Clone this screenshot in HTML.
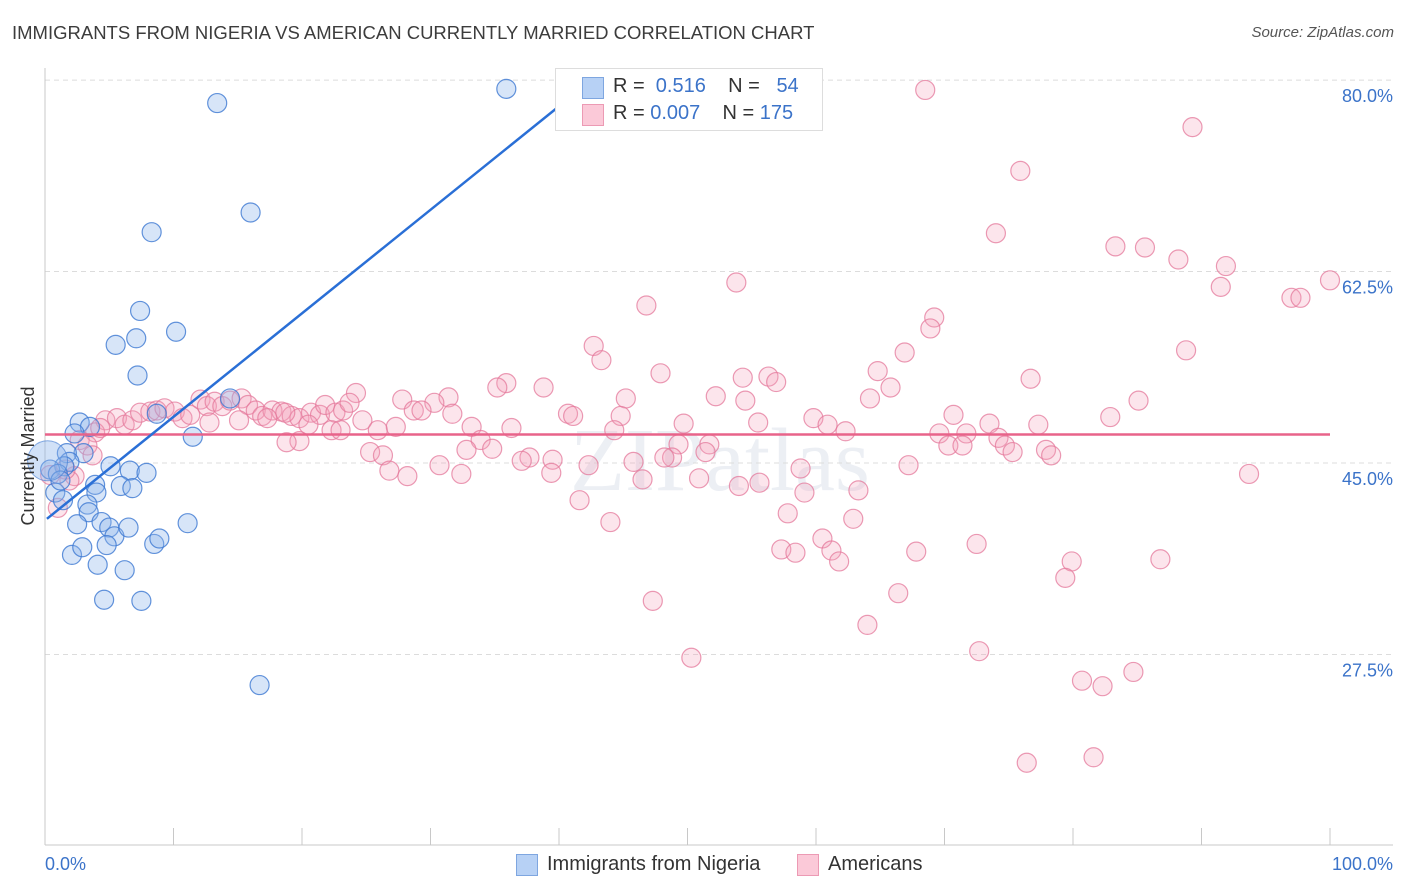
<!DOCTYPE html>
<html><head><meta charset="utf-8">
<style>
body{margin:0;background:#fff;font-family:"Liberation Sans",sans-serif;}
#wrap{position:relative;width:1406px;height:892px;overflow:hidden;}
.t{position:absolute;white-space:nowrap;}
</style></head>
<body>
<div id="wrap">
<div class="t" style="left:12px;top:22px;font-size:18.5px;color:#3c3c3c;">IMMIGRANTS FROM NIGERIA VS AMERICAN CURRENTLY MARRIED CORRELATION CHART</div>
<div class="t" style="right:12px;top:24px;font-size:15px;color:#555;font-style:italic;">Source: ZipAtlas.com</div>
<svg id="svg" width="1406" height="892" style="position:absolute;left:0;top:0"></svg>
</div>
<script>
const yTicks=[80,62.5,45,27.5];
const yTickLabels=["80.0%","62.5%","45.0%","27.5%"];
const xTickLabels=["0.0%","100.0%"];
const blueX=[13.4,35.9,16.0,8.3,7.4,10.2,5.5,7.1,7.2,2.7,3.5,2.3,11.5,3.0,1.7,1.9,1.5,0.4,1.0,5.1,6.6,7.9,0.8,1.4,3.9,4.0,5.9,6.8,3.3,3.4,2.5,4.4,5.0,5.4,6.5,11.1,2.1,2.9,4.8,4.1,6.2,8.5,8.9,4.6,7.5,16.7,14.4,8.7,1.2];
const blueY=[77.9,79.2,67.9,66.1,58.9,57.0,55.8,56.4,53.0,48.7,48.3,47.7,47.4,45.9,45.9,45.1,44.7,44.4,44.0,44.7,44.3,44.1,42.3,41.6,43.0,42.3,42.9,42.7,41.2,40.5,39.4,39.6,39.1,38.3,39.1,39.5,36.6,37.3,37.5,35.7,35.2,37.6,38.1,32.5,32.4,24.7,50.9,49.5,43.4];
const pinkX=[68.5,89.3,75.9,74.0,83.3,85.6,88.2,91.9,100.0,91.5,97.0,97.7,53.8,46.8,69.2,68.9,42.7,66.9,88.8,43.3,47.9,64.8,54.3,56.3,56.9,65.8,76.7,35.9,35.2,38.8,24.2,31.4,27.8,45.2,52.2,54.5,85.1,64.2,30.3,28.7,29.3,40.7,41.1,44.8,31.7,82.9,70.7,59.8,24.7,60.9,73.5,49.7,55.5,77.3,44.3,62.3,69.6,71.7,33.2,36.3,33.9,32.8,34.8,37.7,37.1,39.5,49.3,51.7,51.4,48.8,48.2,45.8,42.3,39.4,46.5,50.9,54.0,55.6,58.8,59.1,63.3,67.2,70.3,71.4,74.2,74.7,75.3,77.9,78.3,93.7,25.3,26.3,19.8,18.8,26.8,28.2,30.7,32.4,41.6,44.0,57.8,62.9,57.3,58.4,60.5,61.2,61.8,67.8,72.5,79.9,79.4,86.8,47.3,66.4,64.0,50.3,72.7,80.7,82.3,84.7,76.4,81.6,4.7,5.6,6.2,6.8,7.4,8.2,8.7,9.3,10.1,10.7,11.3,12.1,12.6,13.2,13.8,14.4,15.3,15.8,16.4,16.9,17.7,18.4,19.2,19.8,20.7,21.4,21.8,22.6,23.2,23.7,3.9,4.3,2.7,3.3,3.7,2.3,1.9,1.0,12.8,15.1,17.3,18.7,20.5,22.3,23.0,25.9,27.3,0.4,1.6];
const pinkY=[79.1,75.7,71.7,66.0,64.8,64.7,63.6,63.0,61.7,61.1,60.1,60.1,61.5,59.4,58.3,57.3,55.7,55.1,55.3,54.4,53.2,53.4,52.8,52.9,52.4,51.9,52.7,52.3,51.9,51.9,51.4,51.0,50.8,50.9,51.1,50.7,50.7,50.9,50.5,49.8,49.8,49.5,49.3,49.3,49.5,49.2,49.4,49.1,48.9,48.5,48.6,48.6,48.7,48.5,48.0,47.9,47.7,47.7,48.3,48.2,47.1,46.2,46.3,45.5,45.2,45.3,46.7,46.7,46.0,45.5,45.5,45.1,44.8,44.1,43.5,43.6,42.9,43.2,44.5,42.3,42.5,44.8,46.6,46.6,47.3,46.6,46.0,46.2,45.7,44.0,46.0,45.7,47.0,46.9,44.3,43.8,44.8,44.0,41.6,39.6,40.4,39.9,37.1,36.8,38.1,37.0,36.0,36.9,37.6,36.0,34.5,36.2,32.4,33.1,30.2,27.2,27.8,25.1,24.6,25.9,17.6,18.1,48.9,49.1,48.5,48.9,49.6,49.7,49.8,50.0,49.7,49.1,49.4,50.8,50.2,50.6,50.2,50.7,50.9,50.3,49.8,49.3,49.8,49.7,49.3,49.1,49.6,49.4,50.3,49.6,49.8,50.5,47.8,48.2,47.1,46.6,45.7,43.8,43.4,40.9,48.7,48.9,49.1,49.6,48.5,48.0,48.0,48.0,48.3,43.9,44.4];
const blueLine=[0.15,39.9,40.1,77.7];
const pinkLine=[0,47.6,100,47.6];

const X=v=>45+v*12.85;
const Y=v=>463-(v-45)*10.94;
const svg=document.getElementById('svg');
const NS='http://www.w3.org/2000/svg';
function mk(tag,attrs){const e=document.createElementNS(NS,tag);for(const k in attrs)e.setAttribute(k,attrs[k]);svg.appendChild(e);return e;}

let wm=mk('text',{x:720,y:490,'font-size':90,'text-anchor':'middle',fill:'#eceff4','font-family':'Liberation Serif, serif'});
wm.textContent='ZIPatlas';



yTicks.forEach((v,i)=>{
  const g=mk('line',{x1:45,x2:1393,y1:Y(v),y2:Y(v),stroke:'#dcdcdc','stroke-dasharray':'5,4'});
  
  
  const t=mk('text',{x:1393,y:Y(v)+22,'font-size':18,'text-anchor':'end',fill:'#3b73c9'});
  t.textContent=yTickLabels[i];
  
  
});
for(let i=1;i<=10;i++){
  const tk=mk('line',{x1:X(i*10),x2:X(i*10),y1:828,y2:845,stroke:'#c8c8c8'});
  
  
}
let ax=mk('line',{x1:45,x2:45,y1:68,y2:845,stroke:'#c8c8c8'});


let bx=mk('line',{x1:45,x2:1393,y1:845,y2:845,stroke:'#c8c8c8'});



pinkX.forEach((x,i)=>{
  const c=mk('circle',{cx:X(x),cy:Y(pinkY[i]),r:9.5,fill:'rgba(244,160,186,0.28)',stroke:'rgba(228,120,155,0.75)','stroke-width':1.2});
  
  
});
blueX.forEach((x,i)=>{
  const c=mk('circle',{cx:X(x),cy:Y(blueY[i]),r:9.5,fill:'rgba(140,180,235,0.35)',stroke:'rgba(60,120,210,0.8)','stroke-width':1.2});
  
  
});
let big=mk('circle',{cx:X(0.2),cy:Y(45.2),r:20,fill:'rgba(140,180,235,0.4)',stroke:'rgba(60,120,210,0.6)'});



let pl=mk('line',{x1:X(pinkLine[0]),y1:Y(pinkLine[1]),x2:X(pinkLine[2]),y2:Y(pinkLine[3]),stroke:'#e8638a','stroke-width':2.5});


let bl=mk('line',{x1:X(blueLine[0]),y1:Y(blueLine[1]),x2:X(blueLine[2]),y2:Y(blueLine[3]),stroke:'#2a6fd6','stroke-width':2.5});



let yt=mk('text',{x:34,y:456,'font-size':18,fill:'#333','text-anchor':'middle',transform:'rotate(-90 34 456)'});
yt.textContent='Currently Married';


let x0=mk('text',{x:45,y:870,'font-size':18,fill:'#3b73c9'});
x0.textContent=xTickLabels[0];


let x1=mk('text',{x:1393,y:870,'font-size':18,fill:'#3b73c9','text-anchor':'end'});
x1.textContent=xTickLabels[1];


</script>
<div style="position:absolute;left:555px;top:68px;width:266px;height:61px;border:1px solid #ddd;background:#fff;font-size:20px;">
  <div style="position:absolute;left:26px;top:8px;width:20px;height:20px;background:#b7d1f5;border:1px solid #7ea6e0;"></div>
  <div class="t" style="left:57px;top:6px;color:#333;">R = &nbsp;<span style="color:#3b73c9">0.516</span>&nbsp;&nbsp;&nbsp; N = &nbsp;&nbsp;<span style="color:#3b73c9">54</span></div>
  <div style="position:absolute;left:26px;top:35px;width:20px;height:20px;background:#fbc9d8;border:1px solid #ec9ab4;"></div>
  <div class="t" style="left:57px;top:33px;color:#333;">R = <span style="color:#3b73c9">0.007</span>&nbsp;&nbsp;&nbsp; N = <span style="color:#3b73c9">175</span></div>
</div>
<div style="position:absolute;left:0;top:852px;width:1406px;height:26px;font-size:20px;color:#333;">
  <div style="position:absolute;left:516px;top:2px;width:20px;height:20px;background:#b7d1f5;border:1px solid #7ea6e0;"></div>
  <div class="t" style="left:547px;top:1px;">Immigrants from Nigeria</div>
  <div style="position:absolute;left:797px;top:2px;width:20px;height:20px;background:#fbc9d8;border:1px solid #ec9ab4;"></div>
  <div class="t" style="left:828px;top:1px;">Americans</div>
</div>
</body></html>
